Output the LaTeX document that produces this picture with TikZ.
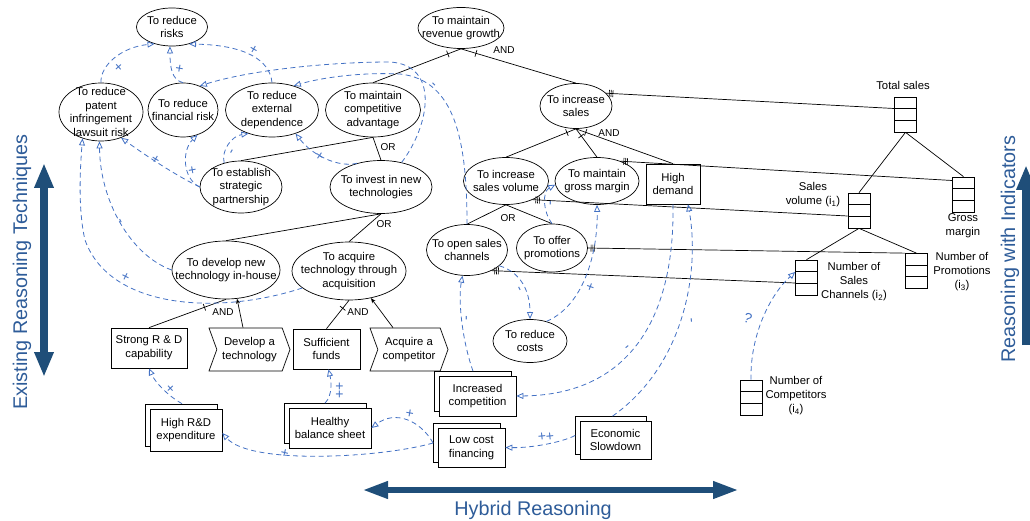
\documentclass[tikz,border=0pt]{standalone}
\usepackage{fontspec}
\setmainfont{Liberation Sans}
\usetikzlibrary{shapes.geometric,shapes.symbols,shadows,arrows.meta,decorations.markings}
\definecolor{linkblue}{HTML}{4472C4}
\definecolor{navy}{HTML}{1F4E79}
\definecolor{captionblue}{HTML}{2E5C99}
\begin{document}
\begin{tikzpicture}[x=1pt,y=-1pt,
  every node/.style={font=\fontsize{11.3}{13.6}\selectfont, align=center, inner sep=0pt, line width=0.7pt},
  goal/.style={draw, ellipse, label={center:#1}},
  task/.style={draw, rectangle},
  act/.style={draw, signal, signal from=west, signal to=east, signal pointer angle=140},
  doc/.style={draw, rectangle, fill=white,
    copy shadow={shadow xshift=-4.5pt, shadow yshift=4.5pt, draw=black, fill=white, opacity=1}},
  indic/.style={draw, rectangle, minimum width=22pt, minimum height=35pt,
    path picture={
      \draw[line width=0.7pt]
        ([yshift=-11.67pt]path picture bounding box.north west) -- ([yshift=-11.67pt]path picture bounding box.north east)
        ([yshift=11.67pt]path picture bounding box.south west) -- ([yshift=11.67pt]path picture bounding box.south east);}},
  ilabel/.style={font=\fontsize{11.3}{14}\selectfont},
  dec/.style={font=\fontsize{10}{12}\selectfont},
  tree/.style={draw=black, line width=0.7pt},
  andtick/.style={postaction={decorate, decoration={markings,
    mark=at position #1 with {\draw[line width=0.7pt] (0pt,-3.5pt) -- (0pt,3.5pt);}}}},
  indtick/.style={postaction={decorate, decoration={markings,
    mark=at position 5pt with {\draw[line width=0.6pt]
      (-1.8pt,-3.5pt) -- (-1.8pt,3.5pt) (0pt,-3.5pt) -- (0pt,3.5pt) (1.8pt,-3.5pt) -- (1.8pt,3.5pt);}}}},
  link/.style={draw=linkblue, line width=0.8pt, dash pattern=on 5pt off 3.5pt,
    -{Triangle[open, length=7pt, width=6pt]}},
  sign/.style={text=linkblue, font=\fontsize{14}{14}\selectfont},
  caption/.style={text=captionblue, font=\fontsize{19.8}{22}\selectfont},
  bigarrow/.style={draw=navy, line width=8pt},
]
\path[use as bounding box] (0,0) rectangle (1030,521);
\clip (0,0) rectangle (1030,521);

% ---------- goals ----------
\node[goal={To reduce\\risks}, minimum width=71pt, minimum height=38pt] (rr) at (172,27) {};
\node[goal={To reduce\\patent\\infringement\\lawsuit risk}, minimum width=84pt, minimum height=58pt] (pat) at (101,112) {};
\node[goal={To reduce\\financial risk}, minimum width=70pt, minimum height=54pt] (fin) at (183,110) {};
\node[goal={To reduce\\external\\dependence}, minimum width=93pt, minimum height=54pt] (ext) at (272,110) {};
\node[goal={To maintain\\competitive\\advantage}, minimum width=95pt, minimum height=54pt] (comp) at (373,110) {};
\node[goal={To maintain\\revenue growth}, minimum width=86pt, minimum height=41pt] (rg) at (461,28) {};
\node[goal={To establish\\strategic\\partnership}, minimum width=82pt, minimum height=52pt] (esp) at (241,187) {};
\node[goal={To invest in new\\technologies}, minimum width=102pt, minimum height=53pt] (inv) at (381,187) {};
\node[goal={To increase\\sales}, minimum width=72pt, minimum height=45pt] (is) at (576,106) {};
\node[goal={To increase\\sales volume}, minimum width=85pt, minimum height=47pt] (isv) at (506,181) {};
\node[goal={To maintain\\gross margin}, minimum width=84pt, minimum height=47pt] (gm) at (597,181) {};
\node[goal={To open sales\\channels}, minimum width=81pt, minimum height=51pt] (osc) at (467,250) {};
\node[goal={To offer\\promotions}, minimum width=71pt, minimum height=48pt] (op) at (552,248) {};
\node[goal={To reduce\\costs}, minimum width=74pt, minimum height=43pt] (rc) at (530,341) {};
\node[goal={To develop new\\technology in-house}, minimum width=108pt, minimum height=58pt] (dev) at (226,270) {};
\node[goal={To acquire\\technology through\\acquisition}, minimum width=114pt, minimum height=58pt] (acq) at (349,271) {};

% ---------- tasks, actions, situations ----------
\node[task, minimum width=54pt, minimum height=40pt] (hd) at (673,184) {High\\demand};
\node[task, minimum width=76pt, minimum height=40pt] (srd) at (149,348) {Strong R \& D\\capability};
\node[act, minimum width=81pt, minimum height=43pt] (dat) at (249.5,349.5) {Develop a\\technology};
\node[task, minimum width=67pt, minimum height=40pt] (sf) at (326.5,349) {Sufficient\\funds};
\node[act, minimum width=78pt, minimum height=43pt] (aac) at (409,349.5) {Acquire a\\competitor};
\node[doc, minimum width=72pt, minimum height=42pt] (hrd) at (186,430) {High R\&D\\expenditure};
\node[doc, minimum width=82pt, minimum height=40pt] (hbs) at (330,428) {Healthy\\balance sheet};
\node[doc, minimum width=77pt, minimum height=40pt] (ic) at (477.5,396) {Increased\\competition};
\node[doc, minimum width=67pt, minimum height=39pt] (lcf) at (471.5,447.5) {Low cost\\financing};
\node[doc, minimum width=71pt, minimum height=38pt] (es) at (615.5,440) {Economic\\Slowdown};

% ---------- indicators ----------
\node[indic] (ts) at (905.5,114.5) {};
\node[indic] (gmi) at (963.5,194.5) {};
\node[indic] (sv) at (859,210.5) {};
\node[indic] (nsc) at (806.5,277.5) {};
\node[indic] (np) at (916.5,271) {};
\node[indic] (nc) at (751,397.5) {};
\node[ilabel] (tsl) at (903,85) {Total sales};
\node[ilabel] (gml) at (963,226) {Gross\\margin};
\node[ilabel] (svl) at (813,195) {Sales\\volume (i\textsubscript{1})};
\node[ilabel] (nscl) at (854,282) {Number of\\Sales\\Channels (i\textsubscript{2})};
\node[ilabel] (npl) at (962,272) {Number of\\Promotions\\(i\textsubscript{3})};
\node[ilabel] (ncl) at (796,396) {Number of\\Competitors\\(i\textsubscript{4})};

% ---------- decomposition labels ----------
\node[dec] (and1) at (504,50) {AND};
\node[dec] (or1) at (388,147) {OR};
\node[dec] (or2) at (384,224) {OR};
\node[dec] (and2) at (223,312) {AND};
\node[dec] (and3) at (358,312) {AND};
\node[dec] (and4) at (609,133) {AND};
\node[dec] (or3) at (508,218) {OR};

% ---------- decompositions ----------
\draw[tree, andtick=0.15] (rg.south) -- (comp.north);
\draw[tree, andtick=0.13] (rg.south) -- (is.north);
\draw[tree] (comp.south) -- (inv.north);
\draw[tree] (comp.south) -- (esp.north);
\draw[tree] (inv.south) -- (dev.north);
\draw[tree] (inv.south) -- (acq.north);
\draw[tree, andtick=0.28] (dev.south) -- (srd.north);
\draw[tree, -{Stealth[length=5pt, width=4pt]}] ([xshift=-6.5pt]dat.north) -- (dev.-69);
\draw[tree, andtick=0.28] (acq.south) -- (sf.north);
\draw[tree, -{Stealth[length=5pt, width=4pt]}] ([xshift=-16pt]aac.north) -- (acq.-51);
\draw[tree, andtick=0.13] (is.south) -- (isv.north);
\draw[tree, andtick=0.25] (is.south) -- (gm.north);
\draw[tree, andtick=0.1] (is.south) -- (hd.north);
\draw[tree] (isv.south) -- (osc.north);
\draw[tree] (isv.south) -- (op.north);

% ---------- goal to indicator links ----------
\draw[tree, indtick] (is.23) -- ([yshift=6pt]ts.west);
\draw[tree, indtick] (gm.40) -- ([yshift=14pt]gmi.west);
\draw[tree, indtick] (isv.-35) -- ([yshift=-5.5pt]sv.west);
\draw[tree, indtick] (op.east) -- (np.north west);
\draw[tree, indtick] (osc.-40) -- ([yshift=-5.5pt]nsc.west);
\draw[tree] (ts.south) -- (sv.north);
\draw[tree] (ts.south) -- (gmi.north);
\draw[tree] (sv.south) -- (nsc.north);
\draw[tree] (sv.south) -- (np.north);

% ---------- contribution links ----------
\draw[link] (pat.north) .. controls (100,65) and (122,47) .. (rr.-136);
\draw[link] (fin.north) .. controls (172,80) and (170,68) .. (rr.-96);
\draw[link] (ext.north) .. controls (270,60) and (245,45) .. (rr.-45);
\draw[link] (esp.west) .. controls (175,175) and (145,155) .. (pat.-52);
\draw[link] (esp.west) .. controls (182,178) and (182,150) .. (fin.-60);
\draw[link] (esp.125) .. controls (221,150) and (232,136) .. (ext.-135);
\draw[link] (inv.135) .. controls (338,168) and (312,155) .. (ext.-45);
\draw[link] (acq.200) .. controls (220,315) and (110,310) .. (85,240)
  .. controls (78,210) and (80,170) .. (pat.-125);
\draw[link] (dev.west) .. controls (130,255) and (100,200) .. (pat.-93);
\draw[link] ([xshift=-5pt,yshift=4.5pt]hbs.north) .. controls (333,395) and (331,380) .. ([xshift=2pt]sf.south);
\draw[link] ([xshift=-4pt,yshift=5pt]hrd.north) .. controls (168,396) and (155,382) .. (srd.south);
\draw[link] ([xshift=-4.5pt,yshift=4.5pt]lcf.west) .. controls (420,420) and (395,410) .. (hbs.east);
\draw[link] ([xshift=-4.5pt,yshift=4.5pt]lcf.west) .. controls (380,458) and (250,465) .. ([yshift=-3pt]hrd.east);
\draw[link] ([xshift=-4.5pt,yshift=4.5pt]es.west) .. controls (560,443) and (530,448) .. (lcf.east);
\draw[link] ([xshift=-3pt,yshift=4.5pt]es.north) .. controls (685,365) and (700,270) .. ([xshift=15pt]hd.south);
\draw[link] (hd.south) .. controls (675,330) and (620,395) .. (ic.east);
\draw[link] ([xshift=-4.5pt,yshift=4.5pt]ic.north) .. controls (462,340) and (458,300) .. (osc.-100);
\draw[link] (osc.-26) .. controls (520,272) and (530,290) .. (rc.north);
\draw[link] (rc.50) .. controls (585,305) and (598,250) .. (gm.south);
\draw[link] (op.north) .. controls (543,212) and (542,192) .. (gm.185);
\draw[link] (nc.north) .. controls (750,335) and (770,295) .. ([yshift=5.5pt]nsc.west);
\draw[link] (inv.50) .. controls (430,125) and (440,65) .. (390,62)
  .. controls (330,62) and (250,70) .. (fin.55);
\draw[link] (osc.north) .. controls (467,140) and (455,80) .. (400,74)
  .. controls (360,72) and (320,78) .. (ext.48);

% ---------- contribution signs ----------
\node[sign, rotate=42] (g1) at (119,68) {+};
\node[sign, rotate=80] (g2) at (180,69) {+};
\node[sign, rotate=150] (g3) at (254,49) {+};
\node[sign, rotate=149] (g4) at (156,159) {+};
\node[sign, rotate=100] (g5) at (193,170) {+};
\node[sign, rotate=60] (g6) at (233,152) {-};
\node[sign, rotate=145] (g7) at (320,155) {+};
\node[sign, rotate=153] (g8) at (126,276) {+};
\node[sign, rotate=117] (g9) at (122,220) {-};
\node[sign, rotate=90] (g10) at (340,390) {++};
\node[sign, rotate=133] (g11) at (171,388) {+};
\node[sign, rotate=170] (g12) at (410,413) {+};
\node[sign, rotate=166] (g13) at (285,452) {+};
\node[sign, rotate=6] (g14) at (546,437) {++};
\node[sign, rotate=95] (g15) at (693,320) {-};
\node[sign, rotate=40] (g16) at (628,348) {-};
\node[sign, rotate=90] (g17) at (468,318) {-};
\node[sign, rotate=-63] (g18) at (518,290) {-};
\node[sign, rotate=70] (g19) at (591,287) {+};
\node[sign, rotate=90] (g20) at (552,203) {-};
\node[sign, rotate=-20] (g21) at (748,318) {?};
\node[sign, rotate=135] (g22) at (435,83) {-};

% ---------- reasoning axes ----------
\coordinate (ltop) at (44,163);
\coordinate (lbot) at (44,377);
\coordinate (bl) at (362,490);
\coordinate (br) at (739,490);
\coordinate (rbot) at (1026,345);
\coordinate (rtop) at (1026,165);
\draw[bigarrow, {Triangle[length=25pt, width=18pt]}-{Triangle[length=25pt, width=18pt]}] (ltop) -- (lbot);
\draw[bigarrow, line width=6.5pt, {Triangle[length=26pt, width=16pt]}-{Triangle[length=26pt, width=16pt]}] (bl) -- (br);
\draw[bigarrow, -{Triangle[length=25pt, width=18pt]}] (rbot) -- (rtop);
\node[caption, rotate=90] (lcap) at (22,272) {Existing Reasoning Techniques};
\node[caption, rotate=90] (rcap) at (1010,249) {Reasoning with Indicators};
\node[caption] (bcap) at (533,510) {Hybrid Reasoning};
\end{tikzpicture}
\end{document}
